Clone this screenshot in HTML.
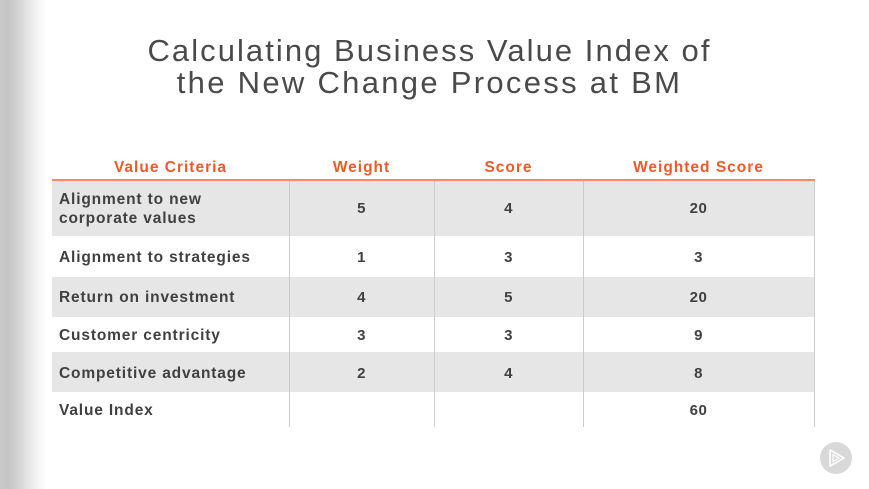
<!DOCTYPE html>
<html>
<head>
<meta charset="utf-8">
<style>
  html, body { margin:0; padding:0; }
  body { width:869px; height:489px; position:relative; overflow:hidden; background:#fff;
         font-family:"Liberation Sans", Arial, sans-serif; }
  .shade { position:absolute; left:0; top:0; width:48px; height:489px;
           background:linear-gradient(to right, #c9c9c9 0px, #c4c4c4 8px, #d2d2d2 18px, #e8e8e8 30px, #f8f8f8 40px, #ffffff 48px); }
  .title { position:absolute; left:-5px; width:869px; text-align:center; color:#4a4a4a;
           font-size:31px; font-weight:normal; white-space:nowrap; }
  .hdr { position:absolute; top:158px; color:#f05a28; font-weight:bold; font-size:15.5px;
         letter-spacing:1px; text-align:center; white-space:nowrap; line-height:20px; }
  .row { position:absolute; left:52px; width:762px; }
  .gray { background:#e6e6e6; }
  .vline { position:absolute; top:181px; height:246px; width:1px; background:#cbcbcb; }
  .hline { position:absolute; left:52px; top:179px; width:763px; height:2px; background:#f7896a; }
  .lbl { position:absolute; left:59px; color:#404040; font-weight:bold; font-size:15.5px;
         letter-spacing:0.85px; white-space:nowrap; line-height:19px; }
  .num { position:absolute; color:#404040; font-weight:bold; font-size:15px; text-align:center;
         letter-spacing:0.5px; line-height:19px; }
  .play { position:absolute; left:820px; top:442px; width:32px; height:32px; border-radius:50%; background:#d8d8d8; }
</style>
</head>
<body>
<div class="shade"></div>

<div class="title" style="top:33px; letter-spacing:2.05px;">Calculating Business Value Index of</div>
<div class="title" style="top:65px; letter-spacing:2.3px;">the New Change Process at BM</div>

<div class="hdr" style="left:52px; width:237px;">Value Criteria</div>
<div class="hdr" style="left:289px; width:145px;">Weight</div>
<div class="hdr" style="left:434px; width:149px;">Score</div>
<div class="hdr" style="left:583px; width:231px;">Weighted Score</div>

<div class="row gray" style="top:181px; height:55px;"></div>
<div class="row gray" style="top:277px; height:40px;"></div>
<div class="row gray" style="top:352px; height:40px;"></div>

<div class="hline"></div>
<div class="vline" style="left:289px;"></div>
<div class="vline" style="left:434px;"></div>
<div class="vline" style="left:583px;"></div>
<div class="vline" style="left:814px;"></div>

<div class="lbl" style="top:190px;">Alignment to new</div>
<div class="lbl" style="top:209px;">corporate values</div>
<div class="lbl" style="top:248px;">Alignment to strategies</div>
<div class="lbl" style="top:288px;">Return on investment</div>
<div class="lbl" style="top:326px;">Customer centricity</div>
<div class="lbl" style="top:364px;">Competitive advantage</div>
<div class="lbl" style="top:401px;">Value Index</div>

<div class="num" style="left:289px; width:145px; top:199px;">5</div>
<div class="num" style="left:434px; width:149px; top:199px;">4</div>
<div class="num" style="left:583px; width:231px; top:199px;">20</div>

<div class="num" style="left:289px; width:145px; top:248px;">1</div>
<div class="num" style="left:434px; width:149px; top:248px;">3</div>
<div class="num" style="left:583px; width:231px; top:248px;">3</div>

<div class="num" style="left:289px; width:145px; top:288px;">4</div>
<div class="num" style="left:434px; width:149px; top:288px;">5</div>
<div class="num" style="left:583px; width:231px; top:288px;">20</div>

<div class="num" style="left:289px; width:145px; top:326px;">3</div>
<div class="num" style="left:434px; width:149px; top:326px;">3</div>
<div class="num" style="left:583px; width:231px; top:326px;">9</div>

<div class="num" style="left:289px; width:145px; top:364px;">2</div>
<div class="num" style="left:434px; width:149px; top:364px;">4</div>
<div class="num" style="left:583px; width:231px; top:364px;">8</div>

<div class="num" style="left:583px; width:231px; top:401px;">60</div>

<div class="play">
  <svg width="32" height="32" viewBox="0 0 32 32">
    <polygon points="10,8 24,16 10,24" fill="none" stroke="#ffffff" stroke-width="1.6" stroke-linejoin="round"/>
    <polygon points="13,12.5 19,16 13,19.5" fill="none" stroke="#ffffff" stroke-width="1.2"/>
  </svg>
</div>
</body>
</html>
